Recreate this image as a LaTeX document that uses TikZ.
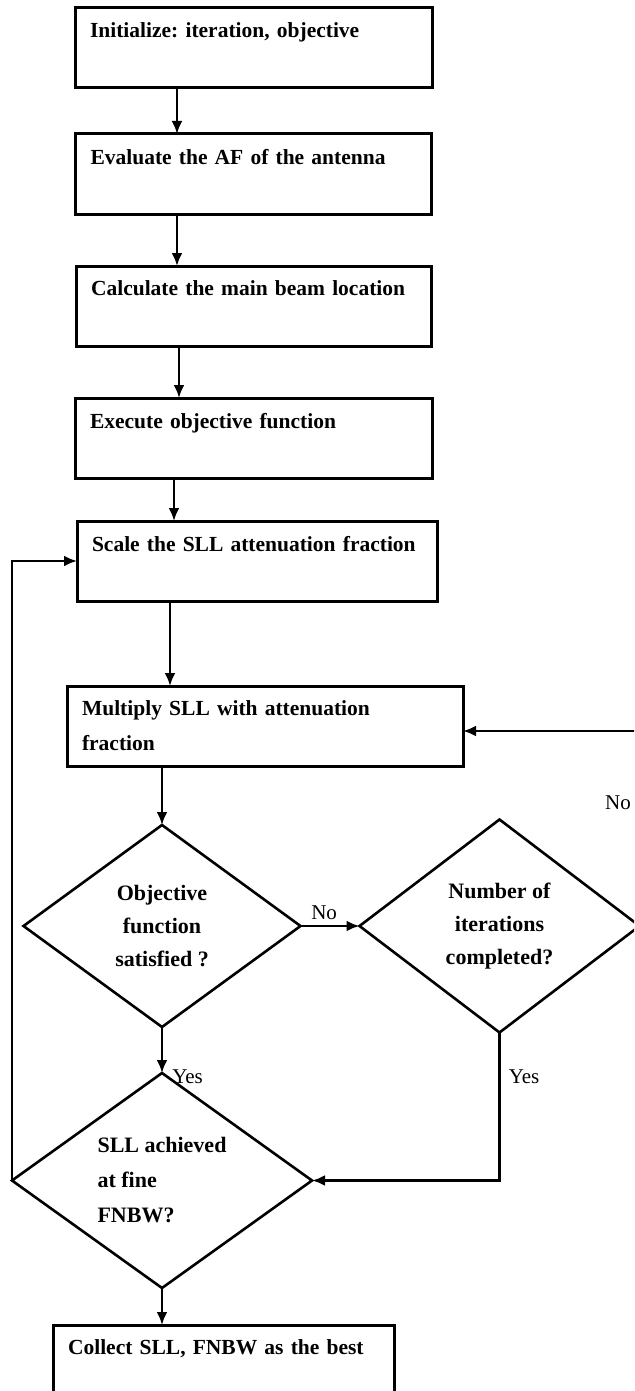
\documentclass[tikz,border=0pt]{standalone}
\usepackage{fontspec}
\setmainfont{Liberation Serif}
\usetikzlibrary{shapes.geometric, arrows.meta, positioning}

\begin{document}
\begin{tikzpicture}[x=1pt, y=-1pt, node distance=46pt,
    box/.style={draw, line width=3pt, outer sep=0pt, inner xsep=15pt, inner ysep=0pt, text width=#1, minimum height=80pt, align=left, font=\fontsize{21.5}{35}\selectfont\bfseries\frenchspacing},
    decision/.style={draw, diamond, line width=2.6pt, outer sep=0pt, inner sep=0pt, aspect=1.4, align=center, font=\fontsize{22}{33}\selectfont\bfseries},
    arr/.style={line width=2.6pt, -{Latex[length=13pt,width=11pt]}},
    lbl/.style={font=\fontsize{21}{25}\selectfont, inner sep=2pt}]
    \useasboundingbox (0,0) rectangle (634,1391);
    \clip (0,0) rectangle (634,1391);

    % Process boxes
    \node[box=327pt] (B1) at (253.5,48) {Initialize: iteration, objective\\~};
    \node[box=326pt, below=46pt of B1] (B2) {Evaluate the AF of the antenna\\~};
    \node[box=325pt, below=52pt of B2] (B3) {Calculate the main beam location\\~};
    \node[box=327pt, below=52pt of B3] (B4) {Execute objective function\\~};
    \node[box=330pt, below=43pt of B4, xshift=3.5pt] (B5) {Scale the SLL attenuation fraction\\~};
    \node[box=366pt, below=85pt of B5, xshift=8pt] (B6) {Multiply SLL with attenuation\\fraction};

    % Decisions
    \node[decision, minimum width=277pt, minimum height=202pt, below=59pt of B6.south west, xshift=95pt] (D1) {Objective\\function\\satisfied ?};
    \node[decision, minimum width=280pt, minimum height=213pt, right=59pt of D1] (D2) {Number of\\iterations\\completed?};
    \node[decision, minimum width=300pt, minimum height=215pt, below=46pt of D1, align=left, font=\fontsize{22}{35}\selectfont\bfseries] (D3) {SLL achieved\\at fine\\FNBW?};

    % Output
    \node[box=311pt, below=37pt of D3, xshift=61.5pt] (B7) {Collect SLL, FNBW as the best\\~};

    % Main flow
    \draw[arr] ([xshift=102pt]B1.south west) -- ([xshift=101.5pt]B2.north west);
    \draw[arr] ([xshift=101.5pt]B2.south west) -- ([xshift=101pt]B3.north west);
    \draw[arr] ([xshift=103pt]B3.south west) -- ([xshift=104pt]B4.north west);
    \draw[arr] ([xshift=99pt]B4.south west) -- ([xshift=97pt]B5.north west);
    \draw[arr] ([xshift=93pt]B5.south west) -- ([xshift=103pt]B6.north west);
    \draw[arr] ([xshift=95pt]B6.south west) -- (D1.north);
    \draw[arr] (D1.south) -- (D3.north) node[lbl, at end, anchor=west, xshift=7pt, yshift=-4pt] {Yes};
    \draw[arr] (D3.south) -- ([xshift=109pt]B7.north west);

    % Branches
    \draw[arr] (D1.east) -- (D2.west) node[lbl, above, pos=0.4, yshift=3pt] {No};
    \draw[arr] (D2.south) |- (D3.east) node[lbl, pos=0.15, anchor=west, xshift=6pt] {Yes};

    % Loops
    \draw[arr] (D3.west) |- (B5.west);
    \draw[arr] (D2.east) -- ++(30,0) |- ([yshift=-5pt]B6.east);
    \node[lbl] (noR) at (618,803) {No};
\end{tikzpicture}
\end{document}
